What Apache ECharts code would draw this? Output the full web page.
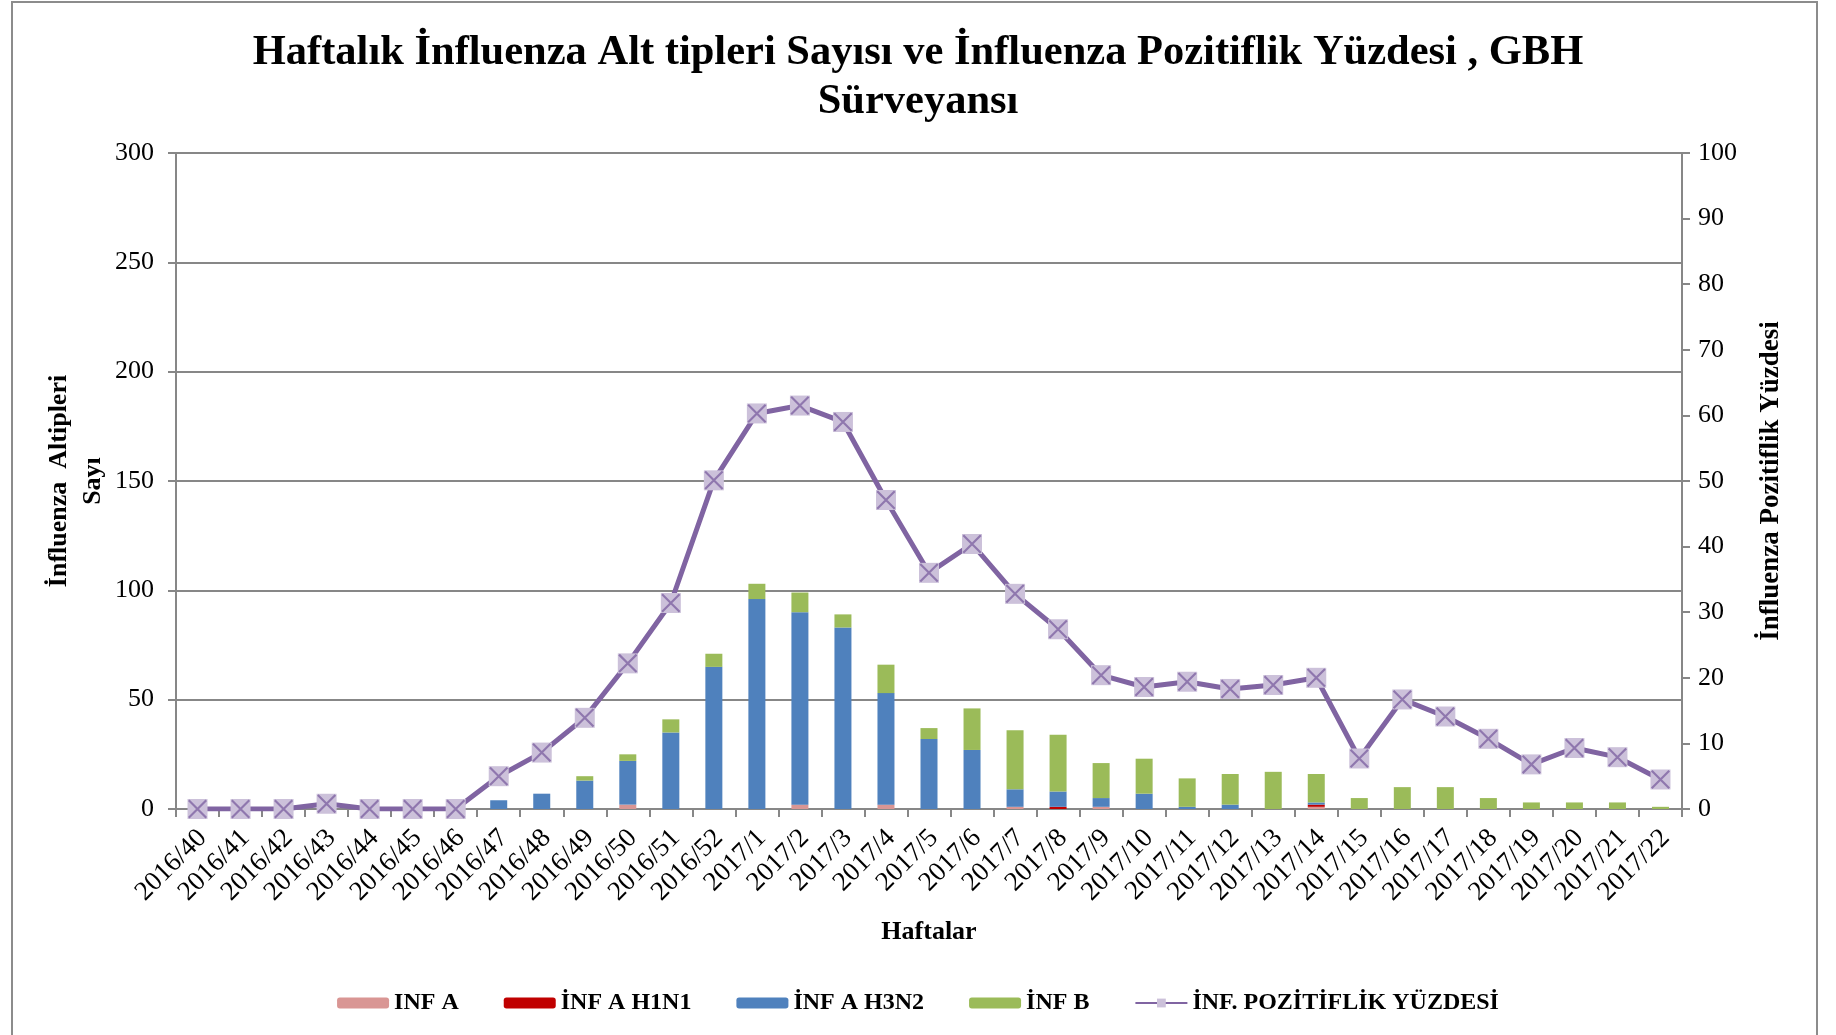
<!DOCTYPE html>
<html>
<head>
<meta charset="utf-8">
<title>Haftalık İnfluenza</title>
<script src="https://cdn.jsdelivr.net/npm/echarts@6/dist/echarts.min.js"></script>
<style>
  html, body { margin: 0; padding: 0; background: #fff; }
  #chart { width: 1836px; height: 1035px; }
</style>
</head>
<body>
<div id="chart"></div>
<script>
// haftalar (x ekseni)
var weeks = [
  '2016/40', '2016/41', '2016/42', '2016/43', '2016/44', '2016/45', '2016/46',
  '2016/47', '2016/48', '2016/49', '2016/50', '2016/51', '2016/52',
  '2017/1', '2017/2', '2017/3', '2017/4', '2017/5', '2017/6', '2017/7',
  '2017/8', '2017/9', '2017/10', '2017/11', '2017/12', '2017/13', '2017/14',
  '2017/15', '2017/16', '2017/17', '2017/18', '2017/19', '2017/20', '2017/21', '2017/22'
];

// alt tip sayıları
var infA = [0, 0, 0, 0, 0, 0, 0, 0, 0, 0, 2, 0, 0,
  0, 2, 0, 2, 0, 0, 1, 0, 1, 0, 0, 0, 0, 1, 0, 0, 0, 0, 0, 0, 0, 0];
var infH1N1 = [0, 0, 0, 0, 0, 0, 0, 0, 0, 0, 0, 0, 0,
  0, 0, 0, 0, 0, 0, 0, 1, 0, 0, 0, 0, 0, 1, 0, 0, 0, 0, 0, 0, 0, 0];
var infH3N2 = [0, 0, 0, 0, 0, 0, 0, 4, 7, 13, 20, 35, 65,
  96, 88, 83, 51, 32, 27, 8, 7, 4, 7, 1, 2, 0, 1, 0, 0, 0, 0, 0, 0, 0, 0];
var infB = [0, 0, 0, 0, 0, 0, 0, 0, 0, 2, 3, 6, 6,
  7, 9, 6, 13, 5, 19, 27, 26, 16, 16, 13, 14, 17, 13, 5, 10, 10, 5, 3, 3, 3, 1];

// pozitiflik yüzdesi (sağ eksen)
var pozitiflik = [0, 0, 0, 0.8, 0, 0, 0, 5.0, 8.6, 13.9, 22.2, 31.4, 50.1,
  60.3, 61.5, 59.0, 47.1, 36.0, 40.4, 32.8, 27.4, 20.4, 18.6, 19.4, 18.3, 18.9, 20.0,
  7.7, 16.7, 14.1, 10.7, 6.8, 9.3, 7.9, 4.5];

var leftTicks = { min: 0, max: 300, interval: 50 };
var rightTicks = { min: 0, max: 100, interval: 10 };

var font = 'Liberation Serif, Times New Roman, serif';
var grayLine = '#878787';

var myChart = echarts.init(document.getElementById('chart'));

var option = {
  backgroundColor: '#fff',
  textStyle: { fontFamily: font, color: '#000' },
  title: {
    text: 'Haftalık İnfluenza Alt tipleri Sayısı ve İnfluenza Pozitiflik Yüzdesi , GBH\nSürveyansı',
    left: 'center',
    top: 24,
    textStyle: { fontFamily: font, fontSize: 42.5, fontWeight: 'bold', lineHeight: 49, color: '#000' }
  },
  legend: {
    data: ['INF A', 'İNF A H1N1', 'İNF A H3N2', 'İNF B', 'İNF. POZİTİFLİK YÜZDESİ'],
    left: 'center',
    top: 986,
    itemGap: 45,
    itemWidth: 52,
    itemHeight: 11,
    textStyle: { fontFamily: font, fontSize: 24, fontWeight: 'bold', color: '#000' }
  },
  grid: { left: 176, right: 154, top: 153, bottom: 226 },
  xAxis: {
    type: 'category',
    data: weeks,
    name: 'Haftalar',
    nameLocation: 'middle',
    nameGap: 110,
    nameMoveOverlap: false,
    nameTextStyle: { fontFamily: font, fontSize: 26, fontWeight: 'bold', color: '#000' },
    axisLine: { lineStyle: { color: grayLine, width: 2 } },
    axisTick: { show: true, length: 8, interval: 0, lineStyle: { color: grayLine, width: 2 } },
    axisLabel: {
      interval: 0, rotate: 45, margin: 20, verticalAlign: 'top', lineHeight: 14,
      fontFamily: font, fontSize: 27, color: '#000'
    }
  },
  yAxis: [{
    type: 'value',
    min: leftTicks.min,
    max: leftTicks.max,
    interval: leftTicks.interval,
    name: 'İnfluenza  Altipleri\nSayı',
    nameLocation: 'middle',
    nameRotate: 90,
    nameGap: 66,
    nameMoveOverlap: false,
    nameTextStyle: { fontFamily: font, fontSize: 26, fontWeight: 'bold', lineHeight: 34, color: '#000' },
    axisLine: { show: true, lineStyle: { color: grayLine, width: 2 } },
    axisTick: { show: true, length: 8, lineStyle: { color: grayLine, width: 2 } },
    splitLine: { lineStyle: { color: grayLine, width: 2 } },
    axisLabel: { margin: 22, fontFamily: font, fontSize: 26, color: '#000' }
  }, {
    type: 'value',
    position: 'right',
    min: rightTicks.min,
    max: rightTicks.max,
    interval: rightTicks.interval,
    name: 'İnfluenza Pozitiflik Yüzdesi',
    nameLocation: 'middle',
    nameRotate: 90,
    nameGap: 76,
    nameTextStyle: { fontFamily: font, fontSize: 27, fontWeight: 'bold', color: '#000' },
    axisLine: { show: true, lineStyle: { color: grayLine, width: 2 } },
    axisTick: { show: true, length: 8, lineStyle: { color: grayLine, width: 2 } },
    splitLine: { show: false },
    axisLabel: { margin: 16, fontFamily: font, fontSize: 26, color: '#000' }
  }],
  series: [{
    name: 'INF A', type: 'bar', stack: 'alt', barWidth: 17,
    itemStyle: { color: '#D99694' }, data: infA
  }, {
    name: 'İNF A H1N1', type: 'bar', stack: 'alt', barWidth: 17,
    itemStyle: { color: '#C00000' }, data: infH1N1
  }, {
    name: 'İNF A H3N2', type: 'bar', stack: 'alt', barWidth: 17,
    itemStyle: { color: '#4F81BD' }, data: infH3N2
  }, {
    name: 'İNF B', type: 'bar', stack: 'alt', barWidth: 17,
    itemStyle: { color: '#9BBB59' }, data: infB
  }, {
    name: 'İNF. POZİTİFLİK YÜZDESİ', type: 'line', yAxisIndex: 1,
    symbol: 'rect', symbolSize: 20, showAllSymbol: true,
    lineStyle: { color: '#8064A2', width: 5 },
    itemStyle: { color: '#CCC1DA', borderWidth: 0 },
    data: pozitiflik, z: 5
  }, {
    // işaretçi üzerindeki çarpı
    name: 'x', type: 'scatter', yAxisIndex: 1,
    symbol: 'path://M0,0.8L0.8,0L10,9.2L9.2,10Z M9.2,0L10,0.8L0.8,10L0,9.2Z',
    symbolSize: 19,
    itemStyle: { color: '#8064A2' },
    silent: true,
    data: pozitiflik, z: 6
  }],
  graphic: [{
    type: 'rect',
    shape: { x: 12, y: 2, width: 1805, height: 1040 },
    style: { fill: null, stroke: '#8c8c8c', lineWidth: 2 },
    silent: true
  }]
};

myChart.setOption(option);
</script>
</body>
</html>
